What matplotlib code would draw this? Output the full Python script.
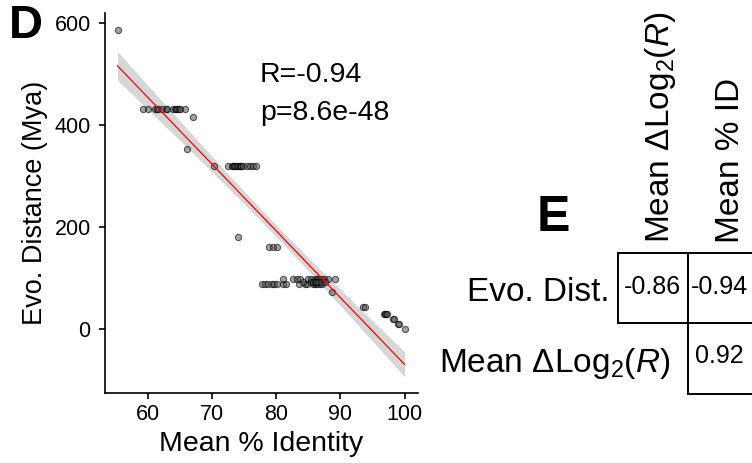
import numpy as np
import matplotlib
matplotlib.use('Agg')
import matplotlib.pyplot as plt
from matplotlib.patches import Rectangle

plt.rcParams['font.family'] = ['Liberation Sans', 'DejaVu Sans']
plt.rcParams['mathtext.fontset'] = 'custom'
plt.rcParams['mathtext.rm'] = 'Liberation Sans'
plt.rcParams['mathtext.it'] = 'Liberation Sans:italic'
plt.rcParams['mathtext.sf'] = 'Liberation Sans'

# ---------------- Data (panel D) ----------------
identity = [55.3,
            59.2, 60.0, 61.1, 61.4, 61.6, 62.3, 62.8, 63.0, 64.0, 64.2, 64.4, 64.6, 64.8, 65.0, 65.8,
            67.1, 66.1,
            70.4, 72.5, 73.2, 73.3, 73.5, 73.6, 73.9, 74.1, 74.3, 74.4, 74.6, 74.9, 75.4, 75.9, 76.4, 76.9,
            74.1,
            78.9, 79.5, 80.1,
            77.8, 78.3, 78.8, 79.3, 79.7, 80.1, 81.1, 81.6, 83.5, 84.5, 84.8, 85.8, 86.1, 86.4, 86.8, 87.1,
            81.0, 82.6, 83.2, 83.7, 85.0, 85.5, 86.0, 86.3, 86.6, 87.0, 87.5, 88.1, 89.2,
            84.2, 85.5, 85.8, 86.0, 86.2, 86.5, 87.0, 87.6,
            88.7,
            93.5, 93.9,
            96.8, 97.0, 97.1, 97.3,
            98.2, 98.3,
            99.0, 99.1,
            100.0]
evo_distance = [586,
                431, 431, 431, 431, 431, 431, 431, 431, 431, 431, 431, 431, 431, 431, 431,
                415, 353,
                319, 319, 319, 319, 319, 319, 319, 319, 319, 319, 319, 319, 319, 319, 319, 319,
                180,
                161, 161, 161,
                88, 88, 88, 88, 88, 88, 88, 88, 88, 88, 88, 88, 88, 88, 88, 88,
                99, 99, 99, 99, 99, 99, 99, 99, 99, 99, 99, 99, 99,
                93, 93, 93, 93, 93, 93, 93, 93,
                73,
                44, 44,
                29, 29, 29, 29,
                19, 19,
                10, 10,
                0]
stat_r = "R=-0.94"
stat_p = "p=8.6e-48"
x_ticks = [60, 70, 80, 90, 100]
y_ticks = [0, 200, 400, 600]

# ---------------- Data (panel E) ----------------
row_labels = ["Evo. Dist.", r"Mean $\Delta$Log$_2$($\mathit{R}$)"]
col_labels = [r"Mean $\Delta$Log$_2$($\mathit{R}$)", "Mean % ID"]
corr_cells = [(0, 0, "-0.86"), (0, 1, "-0.94"), (1, 1, "0.92")]

# ---------------- Figure ----------------
W, H = 752, 463
fig = plt.figure(figsize=(W / 100, H / 100), dpi=100)

def fx(px):
    return px / W

def fy(py):
    return 1 - py / H

ax = fig.add_axes([fx(105), fy(393), fx(418) - fx(105), fy(13) - fy(393)])

x = np.array(identity, dtype=float)
y = np.array(evo_distance, dtype=float)

# linear fit with 95% confidence band
n = len(x)
slope, intercept = np.polyfit(x, y, 1)
xs = np.linspace(x.min(), x.max(), 200)
ys = intercept + slope * xs
resid = y - (intercept + slope * x)
s = np.sqrt(np.sum(resid ** 2) / (n - 2))
sxx = np.sum((x - x.mean()) ** 2)
se = s * np.sqrt(1 / n + (xs - x.mean()) ** 2 / sxx)
tcrit = 1.99
ax.fill_between(xs, ys - tcrit * se, ys + tcrit * se, color='#999999', alpha=0.4,
                linewidth=0, zorder=2)
ax.scatter(x, y, s=20, facecolor=(0.3, 0.3, 0.3, 0.5), edgecolor=(0, 0, 0, 0.6),
           linewidth=0.8, zorder=3)
ax.plot(xs, ys, color='#ff0000', linewidth=0.9, zorder=4)

ax.set_xlim(53.35, 102.1)
ax.set_ylim(-125.5, 619.6)
ax.set_xticks(x_ticks)
ax.set_yticks(y_ticks)
for sp in ['top', 'right']:
    ax.spines[sp].set_visible(False)
for sp in ['left', 'bottom']:
    ax.spines[sp].set_linewidth(1.2)
ax.tick_params(axis='both', length=4.3, width=1.2, labelsize=15.5, colors='black')
ax.tick_params(axis='x', pad=3.5)
ax.tick_params(axis='y', pad=6)
ax.set_xlabel("Mean % Identity", fontsize=20.5)
ax.set_ylabel("Evo. Distance (Mya)", fontsize=19.5)
ax.xaxis.set_label_coords(0.5, -0.10)
ax.yaxis.set_label_coords(-0.182, 0.5)

ax.text(0.495, 0.837, stat_r, transform=ax.transAxes, fontsize=20.5, va='center', ha='left')
ax.text(0.495, 0.737, stat_p, transform=ax.transAxes, fontsize=20.5, va='center', ha='left')

fig.text(fx(9), fy(4), "D", fontsize=34, fontweight='bold', va='top', ha='left')
fig.text(fx(537), fy(195), "E", fontsize=36, fontweight='bold', va='top', ha='left')

# ---------------- Panel E table ----------------
cell = 70.7
left0, top0 = 617.7, 252.7
tx = fig.add_axes([fx(left0), fy(top0 + 2 * cell), fx(W) - fx(left0), fy(top0) - fy(top0 + 2 * cell)])
tx.set_xlim(0, (W - left0) / cell)
tx.set_ylim(2, 0)
tx.axis('off')

text_pos = {(0, 0): (0.49, 0.48), (0, 1): (1.44, 0.48), (1, 1): (1.44, 1.46)}
for r, c, val in corr_cells:
    tx.add_patch(Rectangle((c, r), 1, 1, fill=False, edgecolor='black', linewidth=1.4,
                           clip_on=False))
    px, py = text_pos[(r, c)]
    tx.text(px, py, val, fontsize=18, ha='center', va='center', clip_on=False)

row_y = [0.69, 1.69]
row_x = [-0.11, 0.74]
for lab, ry, rx in zip(row_labels, row_y, row_x):
    tx.text(rx, ry, lab, fontsize=24, ha='right', va='baseline', clip_on=False)

col_x = [0.6, 1.6]
for lab, cx in zip(col_labels, col_x):
    tx.text(cx, -0.137, lab, fontsize=24, rotation=90, ha='center', va='bottom',
            clip_on=False)

fig.savefig('out.png', dpi=100)
